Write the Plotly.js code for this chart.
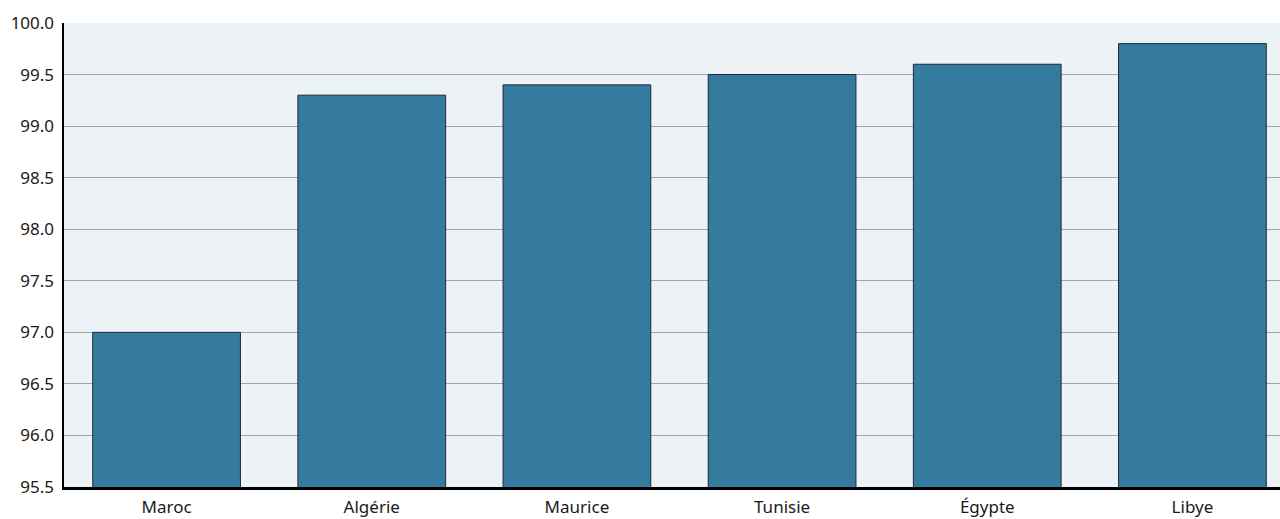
<!DOCTYPE html>
<html>
<head>
<meta charset="utf-8">
<script src="https://cdn.plot.ly/plotly-3.0.1.min.js"></script>
<style>
  html, body { margin: 0; padding: 0; background: #ffffff; overflow: hidden; }
  #chart { width: 1295px; height: 519px; }
</style>
</head>
<body>
<div id="chart"></div>
<script>
// Countries shown along the horizontal axis
const countries = ["Maroc", "Algérie", "Maurice", "Tunisie", "Égypte", "Libye"];
// Value for each country
const values = [97.0, 99.3, 99.4, 99.5, 99.6, 99.8];
// Vertical axis ticks
const yTicks = [95.5, 96.0, 96.5, 97.0, 97.5, 98.0, 98.5, 99.0, 99.5, 100.0];
const yTickLabels = yTicks.map(v => v.toFixed(1));

const trace = {
  type: "bar",
  x: countries,
  y: values,
  marker: { color: "#347b9f", line: { color: "#1b2b35", width: 1 } },
  hoverinfo: "x+y"
};

const layout = {
  width: 1295,
  height: 519,
  margin: { l: 64, r: 0, t: 23, b: 32 },
  paper_bgcolor: "#ffffff",
  plot_bgcolor: "#ecf2f6",
  bargap: 0.28,
  showlegend: false,
  font: { family: "Noto Sans, sans-serif", size: 17, color: "#1a1a1a" },
  xaxis: {
    type: "category",
    showline: true,
    linecolor: "#000000",
    linewidth: 3,
    ticks: "",
    showgrid: false,
    tickfont: { size: 17 },
    ticklabelstandoff: 3
  },
  yaxis: {
    range: [95.5, 100],
    tickvals: yTicks,
    ticktext: yTickLabels,
    showline: true,
    linecolor: "#000000",
    linewidth: 2.5,
    ticks: "",
    showgrid: true,
    gridcolor: "#a3a6a8",
    gridwidth: 1,
    zeroline: false,
    tickfont: { size: 17 },
    ticklabelstandoff: 4
  }
};

Plotly.newPlot("chart", [trace], layout, { displayModeBar: false, staticPlot: true });
</script>
</body>
</html>
